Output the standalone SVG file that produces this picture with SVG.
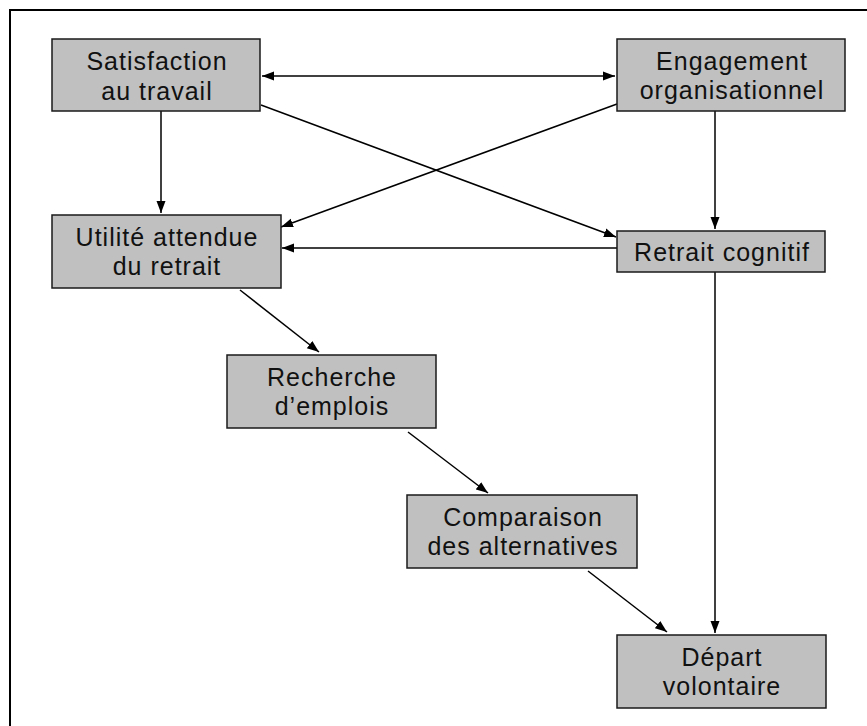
<svg xmlns="http://www.w3.org/2000/svg" width="867" height="726" viewBox="0 0 867 726">
<defs>
<marker id="ah" markerUnits="userSpaceOnUse" markerWidth="14" markerHeight="10" refX="12" refY="5" orient="auto-start-reverse">
<path d="M0,0.5 L12,5 L0,9.5 Z" fill="#000"/>
</marker>
<style>
.box{fill:#c0c0c0;stroke:#1a1a1a;stroke-width:1.5}
.t{font-family:"Liberation Sans",Arial,sans-serif;font-size:25px;letter-spacing:1px;fill:#111;text-anchor:middle}
.c{stroke:#000;stroke-width:1.5;fill:none;marker-end:url(#ah)}
</style>
</defs>
<rect width="867" height="726" fill="#fff"/>
<path d="M10,726 V10 H867" fill="none" stroke="#000" stroke-width="2"/>
<g id="connectors">
<line class="c" x1="262" y1="76" x2="615" y2="76" style="marker-start:url(#ah)"/>
<line class="c" x1="161" y1="111" x2="161" y2="213"/>
<line class="c" x1="715" y1="111" x2="715" y2="229"/>
<line class="c" x1="261" y1="105" x2="616" y2="237"/>
<line class="c" x1="617" y1="104" x2="281" y2="227"/>
<line class="c" x1="617" y1="248" x2="282" y2="248"/>
<line class="c" x1="240" y1="290" x2="319" y2="352"/>
<line class="c" x1="408" y1="432" x2="488" y2="493"/>
<line class="c" x1="588" y1="571" x2="667" y2="632"/>
<line class="c" x1="715" y1="272" x2="715" y2="633"/>
</g>
<g id="satisfaction">
<rect class="box" x="52" y="39" width="208" height="72"/>
<text class="t" x="157" y="70">Satisfaction</text>
<text class="t" x="157" y="100">au travail</text>
</g>
<g id="engagement">
<rect class="box" x="617" y="39" width="228" height="72"/>
<text class="t" x="732" y="70">Engagement</text>
<text class="t" x="732" y="99">organisationnel</text>
</g>
<g id="utilite">
<rect class="box" x="52" y="215" width="229" height="73"/>
<text class="t" x="167" y="246">Utilité attendue</text>
<text class="t" x="167" y="275">du retrait</text>
</g>
<g id="retrait">
<rect class="box" x="617" y="231" width="208" height="41"/>
<text class="t" x="722" y="261">Retrait cognitif</text>
</g>
<g id="recherche">
<rect class="box" x="227" y="355" width="209" height="73"/>
<text class="t" x="332" y="386">Recherche</text>
<text class="t" x="332" y="415">d’emplois</text>
</g>
<g id="comparaison">
<rect class="box" x="407" y="495" width="230" height="73"/>
<text class="t" x="523" y="526">Comparaison</text>
<text class="t" x="523" y="555">des alternatives</text>
</g>
<g id="depart">
<rect class="box" x="617" y="635" width="209" height="73"/>
<text class="t" x="722" y="666">Départ</text>
<text class="t" x="722" y="695">volontaire</text>
</g>
</svg>
